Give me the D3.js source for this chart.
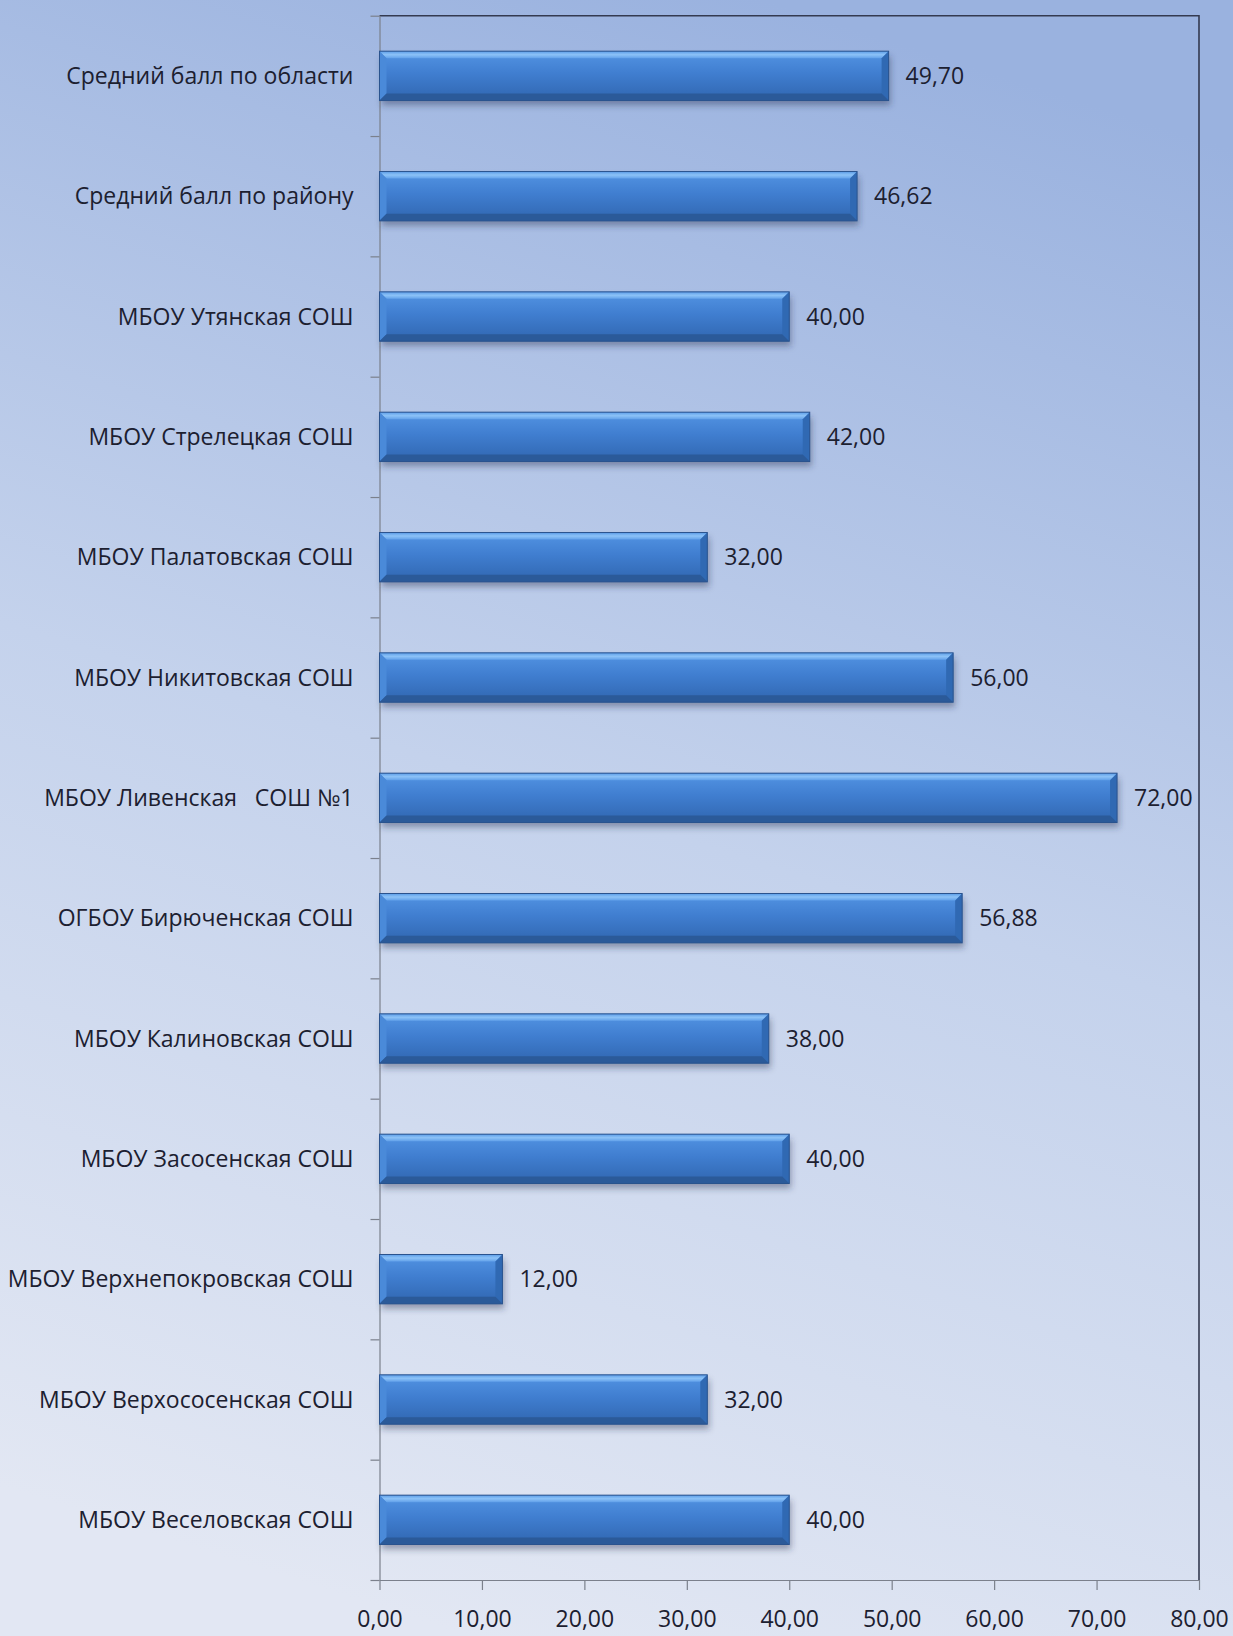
<!DOCTYPE html>
<html lang="ru">
<head>
    <meta charset="UTF-8">
    <title>Средний балл</title>
    <script src="https://cdn.jsdelivr.net/npm/d3@7"></script>
    <style>
        html, body {
            margin: 0;
            padding: 0;
            overflow: hidden;
        }
        svg {
            display: block;
        }
        text {
            font-family: "Open Sans", "DejaVu Sans", sans-serif;
            fill: #1c2030;
        }
    </style>
</head>
<body>
<svg width="1233" height="1636"></svg>

<script>
    // Data, top to bottom
    const categories = [
        "Средний балл по области",
        "Средний балл по району",
        "МБОУ Утянская СОШ",
        "МБОУ Стрелецкая СОШ",
        "МБОУ Палатовская СОШ",
        "МБОУ Никитовская СОШ",
        "МБОУ Ливенская   СОШ №1",
        "ОГБОУ Бирюченская СОШ",
        "МБОУ Калиновская СОШ",
        "МБОУ Засосенская СОШ",
        "МБОУ Верхнепокровская СОШ",
        "МБОУ Верхососенская СОШ",
        "МБОУ Веселовская СОШ"
    ];
    const scores = [49.70, 46.62, 40.00, 42.00, 32.00, 56.00, 72.00, 56.88, 38.00, 40.00, 12.00, 32.00, 40.00];
    const xTicks = [0, 10, 20, 30, 40, 50, 60, 70, 80];

    const W = 1233, H = 1636;
    const plot = {left: 379.5, right: 1199, top: 15.7, bottom: 1580};

    let svg = d3.select("svg");
    const defs = svg.append("defs");

    // background gradient, darker at the top
    let bg = defs.append("linearGradient").attr("id", "bg")
        .attr("x1", "0.62").attr("y1", "0").attr("x2", "0.38").attr("y2", "1");
    bg.append("stop").attr("offset", "0%").attr("stop-color", "#9ab2df");
    bg.append("stop").attr("offset", "50%").attr("stop-color", "#c4d2ec");
    bg.append("stop").attr("offset", "100%").attr("stop-color", "#e2e7f3");

    // bar body gradient
    let bar = defs.append("linearGradient").attr("id", "barFill")
        .attr("x1", "0").attr("y1", "0").attr("x2", "0").attr("y2", "1");
    bar.append("stop").attr("offset", "0%").attr("stop-color", "#5394e3");
    bar.append("stop").attr("offset", "45%").attr("stop-color", "#407ed0");
    bar.append("stop").attr("offset", "100%").attr("stop-color", "#3066b0");

    let topBevel = defs.append("linearGradient").attr("id", "topBevel")
        .attr("x1", "0").attr("y1", "0").attr("x2", "0").attr("y2", "1");
    topBevel.append("stop").attr("offset", "0%").attr("stop-color", "#5c9de8");
    topBevel.append("stop").attr("offset", "50%").attr("stop-color", "#8cc2f7");
    topBevel.append("stop").attr("offset", "100%").attr("stop-color", "#62a1ea");

    let shadow = defs.append("filter").attr("id", "shadow")
        .attr("x", "-5%").attr("y", "-30%").attr("width", "110%").attr("height", "170%");
    shadow.append("feGaussianBlur").attr("stdDeviation", 3);

    svg.append("rect").attr("width", W).attr("height", H).attr("fill", "url(#bg)");

    // scales
    const x = d3.scaleLinear().domain([0, 80]).range([plot.left, plot.right]);
    const y = d3.scaleBand().domain(categories).range([plot.top, plot.bottom])
        .paddingInner(0.59).paddingOuter(0.295);
    const yIdx = d3.scaleLinear().domain([0, categories.length]).range([plot.top, plot.bottom]);

    const fmt = v => v.toFixed(2).replace(".", ",");
    const data = categories.map((c, i) => ({cat: c, value: scores[i]}));

    // plot frame (top and right dark border)
    svg.append("path")
        .attr("d", `M${x(0)},${yIdx(0)}H${x(80)}V${yIdx(categories.length)}`)
        .attr("fill", "none").attr("stroke", "#343a50").attr("stroke-width", 1.6);

    // left axis: ticks on band boundaries
    let yAxis = svg.append("g").attr("transform", `translate(${x(0)},0)`)
        .call(d3.axisLeft(yIdx).tickValues(d3.range(0, categories.length + 1))
            .tickFormat("").tickSize(9).tickSizeOuter(0));
    yAxis.selectAll("path, line").attr("stroke", "#7b808c").attr("stroke-width", 1.2);

    // bottom axis
    let xAxis = svg.append("g").attr("transform", `translate(0,${plot.bottom})`)
        .call(d3.axisBottom(x).tickValues(xTicks).tickFormat(fmt)
            .tickSize(10).tickSizeOuter(0).tickPadding(21));
    xAxis.selectAll("path, line").attr("stroke", "#7b808c").attr("stroke-width", 1.2);
    xAxis.selectAll("text").style("font-size", "23px").attr("fill", "#1c2030");

    // bars
    const b = 7;
    let bars = svg.append("g").selectAll("g").data(data).enter().append("g");

    bars.append("rect")
        .attr("x", x(0) + 2)
        .attr("y", d => y(d.cat) + 5)
        .attr("width", d => x(d.value) - x(0))
        .attr("height", y.bandwidth())
        .attr("fill", "rgba(40,50,80,0.4)")
        .attr("filter", "url(#shadow)");

    bars.append("rect")
        .attr("x", x(0))
        .attr("y", d => y(d.cat))
        .attr("width", d => x(d.value) - x(0))
        .attr("height", y.bandwidth())
        .attr("fill", "url(#barFill)");

    // bevels
    bars.append("polygon").attr("fill", "url(#topBevel)")
        .attr("points", d => {
            let x0 = x(0), x1 = x(d.value), t = y(d.cat);
            return [[x0, t], [x1, t], [x1 - b, t + b], [x0 + b, t + b]].join(" ");
        });
    bars.append("polygon").attr("fill", "#4a8ad9")
        .attr("points", d => {
            let x0 = x(0), t = y(d.cat), h = y.bandwidth();
            return [[x0, t], [x0 + b, t + b], [x0 + b, t + h - b], [x0, t + h]].join(" ");
        });
    bars.append("polygon").attr("fill", "#3069b3")
        .attr("points", d => {
            let x1 = x(d.value), t = y(d.cat), h = y.bandwidth();
            return [[x1, t], [x1, t + h], [x1 - b, t + h - b], [x1 - b, t + b]].join(" ");
        });
    bars.append("polygon").attr("fill", "#2b5a99")
        .attr("points", d => {
            let x0 = x(0), x1 = x(d.value), t = y(d.cat), h = y.bandwidth();
            return [[x0, t + h], [x1, t + h], [x1 - b, t + h - b], [x0 + b, t + h - b]].join(" ");
        });
    bars.append("rect")
        .attr("x", x(0))
        .attr("y", d => y(d.cat))
        .attr("width", d => x(d.value) - x(0))
        .attr("height", y.bandwidth())
        .attr("fill", "none")
        .attr("stroke", "#2a538e").attr("stroke-width", 1);

    // value labels
    bars.append("text")
        .attr("x", d => x(d.value) + 17)
        .attr("y", d => y(d.cat) + y.bandwidth() / 2)
        .attr("dy", "0.35em")
        .style("font-size", "23px")
        .text(d => fmt(d.value));

    // category labels
    svg.append("g").selectAll("text").data(data).enter().append("text")
        .attr("x", x(0) - 26)
        .attr("y", d => y(d.cat) + y.bandwidth() / 2)
        .attr("dy", "0.35em")
        .attr("text-anchor", "end")
        .style("font-size", "23px")
        .style("white-space", "pre")
        .text(d => d.cat);
</script>
</body>
</html>
